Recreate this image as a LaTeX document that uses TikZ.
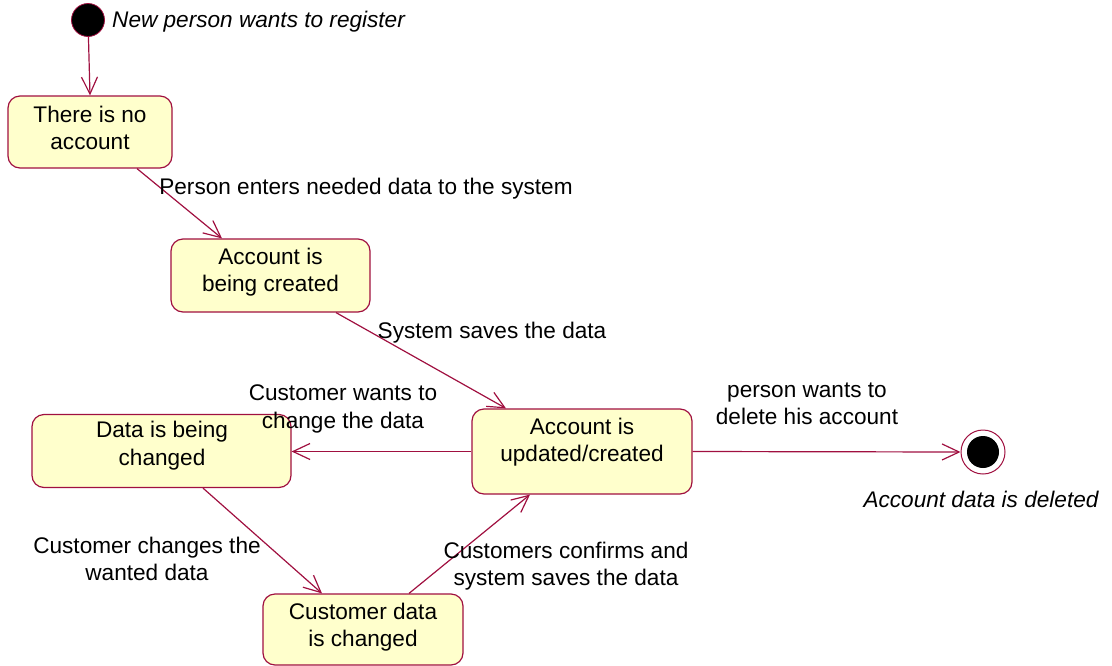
\documentclass[tikz,border=0pt]{standalone}
\usepackage{fontspec}
\setmainfont{Liberation Sans}
\usetikzlibrary{arrows.meta,calc}
\definecolor{umlred}{RGB}{160,16,64}
\definecolor{umlfill}{RGB}{255,255,204}
\begin{document}
\begin{tikzpicture}[x=1pt,y=-1pt,
  statebox/.style={draw=umlred,fill=umlfill,line width=1.2pt,rounded corners=12pt,inner sep=0pt},
  txt/.style={font=\fontsize{22.6}{27.5}\selectfont,align=center,inner sep=0pt},
  itxt/.style={font=\fontsize{22.6}{27.5}\selectfont\itshape,inner sep=0pt},
  trans/.style={draw=umlred,line width=1.2pt,-{Straight Barb[length=17pt,width=16pt,line width=1.2pt]}}]
\useasboundingbox (0,0) rectangle (1112,665);
% initial and final states
\node[circle,fill=black,draw=umlred,line width=0.8pt,minimum size=33pt,inner sep=0pt] (init) at (88,20) {};
\node[itxt,anchor=west] (initlbl) at (112,22) {New person wants to register};
\node[circle,draw=umlred,fill=white,line width=1pt,minimum size=44pt,inner sep=0pt] (final) at (983,452) {};
\node[circle,fill=black,minimum size=32pt,inner sep=0pt] (finalin) at (final.center) {};
\node[itxt] (finallbl) at (981,499) {Account data is deleted};
% state boxes
\node[statebox,minimum width=164pt,minimum height=72pt] (b1) at (90,132) {};
\node[txt] (t1) at (90,128) {There is no\\account};
\node[statebox,minimum width=199pt,minimum height=73pt] (b2) at (270.5,275.5) {};
\node[txt] (t2) at (270.5,272) {Account is\\being created};
\node[statebox,minimum width=220pt,minimum height=85pt] (b3) at (582,451.5) {};
\node[txt] (t3) at (582,442) {Account is\\updated/created};
\node[statebox,minimum width=259pt,minimum height=73pt] (b4) at (161.5,451) {};
\node[txt] (t4) at (162,445.5) {Data is being\\changed};
\node[statebox,minimum width=200pt,minimum height=71pt] (b5) at (363,629.5) {};
\node[txt] (t5) at (363,627) {Customer data\\is changed};
% transitions
\draw[trans] (init) -- (b1.north);
\draw[trans] ($(b1.south)+(47,0)$) -- ($(b2.north)+(-48.5,0)$);
\draw[trans] ($(b2.south)+(65.5,0)$) -- ($(b3.north)+(-76,0)$);
\draw[trans] (b3.west) -- (b4.east |- b3.west);
\draw[trans] (b3.east) -- (final.west);
\draw[trans] ($(b4.south)+(41.5,0)$) -- ($(b5.north)+(-41,0)$);
\draw[trans] ($(b5.north)+(46,0)$) -- ($(b3.south)+(-52,0)$);
% transition labels
\node[txt] (l12) at (366,189) {Person enters needed data to the system};
\node[txt] (l23) at (492,333) {System saves the data};
\node[txt] (l34) at (343,409) {Customer wants to\\change the data};
\node[txt] (l3f) at (807,404) {person wants to\\delete his account};
\node[txt] (l45) at (147,559) {Customer changes the\\wanted data};
\node[txt] (l53) at (566,566) {Customers confirms and\\system saves the data};
\end{tikzpicture}
\end{document}
